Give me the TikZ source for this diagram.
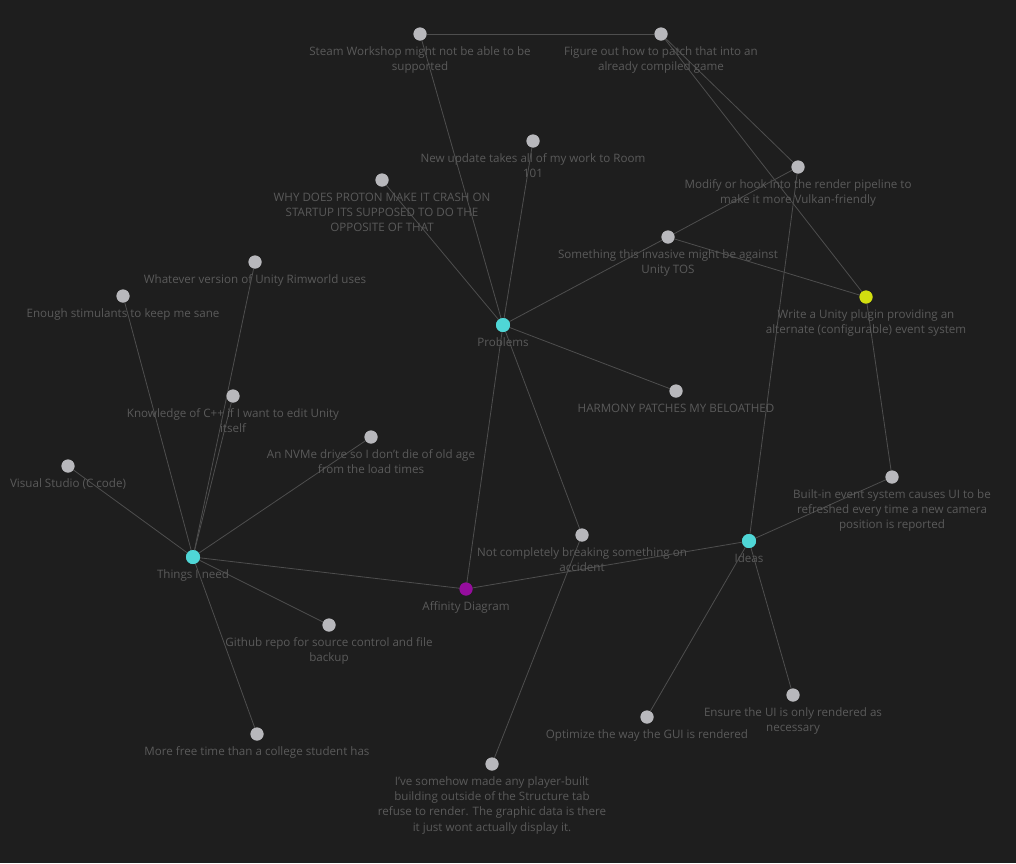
\documentclass[tikz,border=0pt]{standalone}
\usepackage{fontspec}
\setmainfont{Open Sans}
\definecolor{bg}{HTML}{1E1E1E}
\definecolor{edgec}{HTML}{4E4E4E}
\definecolor{txt}{HTML}{5A5A5A}
\definecolor{grayn}{HTML}{B8B8BC}
\definecolor{cyann}{HTML}{4FD6D6}
\definecolor{yelln}{HTML}{D2DF10}
\definecolor{purpn}{HTML}{950D9D}
\begin{document}
\begin{tikzpicture}[x=1pt,y=-1pt,
  dot/.style={circle,inner sep=0pt,minimum size=13pt,fill=grayn},
  hub/.style={dot,minimum size=14pt,fill=cyann},
  lbl/.style={text=txt,font=\fontsize{11.6pt}{15.2pt}\selectfont,align=center,inner sep=0pt,anchor=north},
  lk/.style={draw=edgec,line width=0.8pt}]
\fill[bg] (0,0) rectangle (1016,863);
\useasboundingbox (0,0) rectangle (1016,863);
% nodes
\node[dot] (SW) at (420,34) {};
\node[dot] (FO) at (661,34) {};
\node[dot] (NU) at (533,141) {};
\node[dot] (WP) at (382,180) {};
\node[dot] (MH) at (798,167) {};
\node[dot] (ST) at (668,237) {};
\node[dot,fill=yelln] (WU) at (866,297) {};
\node[hub] (PR) at (503,325) {};
\node[dot] (HP) at (676,391) {};
\node[dot] (WV) at (255,262) {};
\node[dot] (ES) at (123,296) {};
\node[dot] (KC) at (233,396) {};
\node[dot] (NV) at (371,437) {};
\node[dot] (VS) at (68,466) {};
\node[hub] (TN) at (193,557) {};
\node[dot] (GR) at (329,625) {};
\node[dot] (MF) at (257,734) {};
\node[dot] (BI) at (892,477) {};
\node[hub] (ID) at (749,541) {};
\node[dot] (NC) at (582,535) {};
\node[dot,fill=purpn] (AD) at (466,589) {};
\node[dot] (EU) at (793,695) {};
\node[dot] (OG) at (647,717) {};
\node[dot] (IS) at (492,764) {};
% edges
\foreach \a/\b in {SW/FO,SW/PR,FO/MH,FO/WU,MH/ST,MH/ID,NU/PR,WP/PR,ST/PR,ST/WU,PR/HP,PR/NC,PR/AD,WU/BI,BI/ID,ID/AD,ID/EU,ID/OG,NC/IS,TN/ES,TN/WV,TN/KC,TN/NV,TN/VS,TN/GR,TN/MF,TN/AD}
  \draw[lk] (\a.center) -- (\b.center);
% redraw nodes on top
\foreach \n/\c/\s in {SW/grayn/13,FO/grayn/13,NU/grayn/13,WP/grayn/13,MH/grayn/13,ST/grayn/13,WU/yelln/13,PR/cyann/14,HP/grayn/13,WV/grayn/13,ES/grayn/13,KC/grayn/13,NV/grayn/13,VS/grayn/13,TN/cyann/14,GR/grayn/13,MF/grayn/13,BI/grayn/13,ID/cyann/14,NC/grayn/13,AD/purpn/13,EU/grayn/13,OG/grayn/13,IS/grayn/13}
  \fill[\c] (\n.center) circle[radius=\s/2];
% labels
\node[lbl] (tSW) at ([yshift=-12.5]SW.center) {Steam Workshop might not be able to be\\supported};
\node[lbl] (tFO) at ([yshift=-12.5]FO.center) {Figure out how to patch that into an\\already compiled game};
\node[lbl] (tNU) at ([yshift=-12.5]NU.center) {New update takes all of my work to Room\\101};
\node[lbl] (tWP) at ([yshift=-12.5]WP.center) {WHY DOES PROTON MAKE IT CRASH ON\\STARTUP ITS SUPPOSED TO DO THE\\OPPOSITE OF THAT};
\node[lbl] (tMH) at ([yshift=-12.5]MH.center) {Modify or hook into the render pipeline to\\make it more Vulkan-friendly};
\node[lbl] (tST) at ([yshift=-12.5]ST.center) {Something this invasive might be against\\Unity TOS};
\node[lbl] (tWU) at ([yshift=-12.5]WU.center) {Write a Unity plugin providing an\\alternate (configurable) event system};
\node[lbl] (tPR) at ([yshift=-12.5]PR.center) {Problems};
\node[lbl] (tHP) at ([yshift=-12.5]HP.center) {HARMONY PATCHES MY BELOATHED};
\node[lbl] (tWV) at ([yshift=-12.5]WV.center) {Whatever version of Unity Rimworld uses};
\node[lbl] (tES) at ([yshift=-12.5]ES.center) {Enough stimulants to keep me sane};
\node[lbl] (tKC) at ([yshift=-12.5]KC.center) {Knowledge of C++ if I want to edit Unity\\itself};
\node[lbl] (tNV) at ([yshift=-12.5]NV.center) {An NVMe drive so I don't die of old age\\from the load times};
\node[lbl] (tVS) at ([yshift=-12.5]VS.center) {Visual Studio (C code)};
\node[lbl] (tTN) at ([yshift=-12.5]TN.center) {Things I need};
\node[lbl] (tGR) at ([yshift=-12.5]GR.center) {Github repo for source control and file\\backup};
\node[lbl] (tMF) at ([yshift=-12.5]MF.center) {More free time than a college student has};
\node[lbl] (tBI) at ([yshift=-12.5]BI.center) {Built-in event system causes UI to be\\refreshed every time a new camera\\position is reported};
\node[lbl] (tID) at ([yshift=-12.5]ID.center) {Ideas};
\node[lbl] (tNC) at ([yshift=-12.5]NC.center) {Not completely breaking something on\\accident};
\node[lbl] (tAD) at ([yshift=-12.5]AD.center) {Affinity Diagram};
\node[lbl] (tEU) at ([yshift=-12.5]EU.center) {Ensure the UI is only rendered as\\necessary};
\node[lbl] (tOG) at ([yshift=-12.5]OG.center) {Optimize the way the GUI is rendered};
\node[lbl] (tIS) at ([yshift=-12.5]IS.center) {I've somehow made any player-built\\building outside of the Structure tab\\refuse to render. The graphic data is there\\it just wont actually display it.};
\end{tikzpicture}
\end{document}
